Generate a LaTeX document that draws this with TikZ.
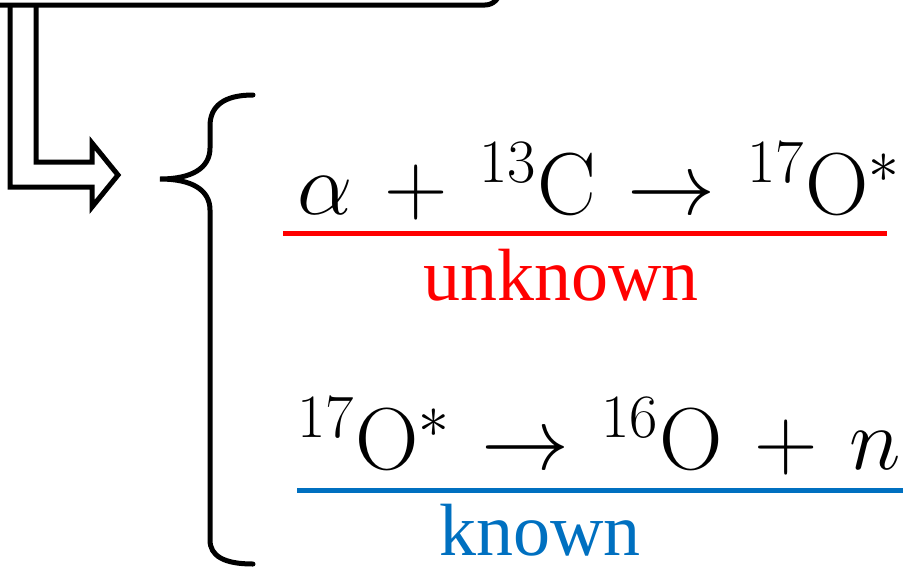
\RequirePackage{fix-cm}
\documentclass[tikz,border=0pt]{standalone}
\usepackage[no-math]{fontspec}
\newfontfamily\labelfont{Liberation Serif}
\definecolor{UnknownRed}{RGB}{255,0,0}
\definecolor{KnownBlue}{RGB}{0,112,192}

\begin{document}
\begin{tikzpicture}[x=0.5pt,y=-0.5pt,line width=2.5pt,
  eq/.style={inner sep=0pt,anchor=base west,font=\fontsize{44}{50}\selectfont},
  tag/.style={inner sep=0pt,anchor=base,font=\labelfont\fontsize{37}{40}\selectfont},
  srcbox/.style={draw,rounded corners=7.5pt,outer sep=0pt,minimum width=300pt,minimum height=60pt}]
\useasboundingbox (0,0) rectangle (903,568);
\clip (0,0) rectangle (903,568);
\medmuskip=6.5mu \thickmuskip=6.5mu
% box above (only its lower edge shows)
\node[srcbox,anchor=south east] (src) at (500,5) {};
% hollow arrow out of the box
\coordinate (outer) at (10,5);
\coordinate (inner) at (36,5);
\draw (outer) -- (10,187) -- (92,187) -- (92,207) -- (118,175) -- (92,143) -- (92,162) -- (36,162) -- (inner);
% brace
\draw[line cap=round] (253,95) .. controls (224,95) and (210,106) .. (210,126) -- (210,148)
  .. controls (210,168) and (192,179) .. (160,179)
  .. controls (192,179) and (210,190) .. (210,210) -- (210,540)
  .. controls (210,556) and (224,564) .. (253,564);
% reaction steps
\node[eq] (capture) at (295,214) {$\alpha + {}^{13}\mathrm{C} \rightarrow {}^{17}\mathrm{O}^{*}$};
\draw[UnknownRed] (283,233) -- (887,233);
\node[tag,UnknownRed] (unk) at (561,300) {unknown};
\node[eq] (decay) at (295,469) {${}^{17}\mathrm{O}^{*} \rightarrow {}^{16}\mathrm{O} + n$};
\draw[KnownBlue] (297,490) -- (903,490);
\node[tag,KnownBlue] (kn) at (540,555) {known};
\end{tikzpicture}
\end{document}
